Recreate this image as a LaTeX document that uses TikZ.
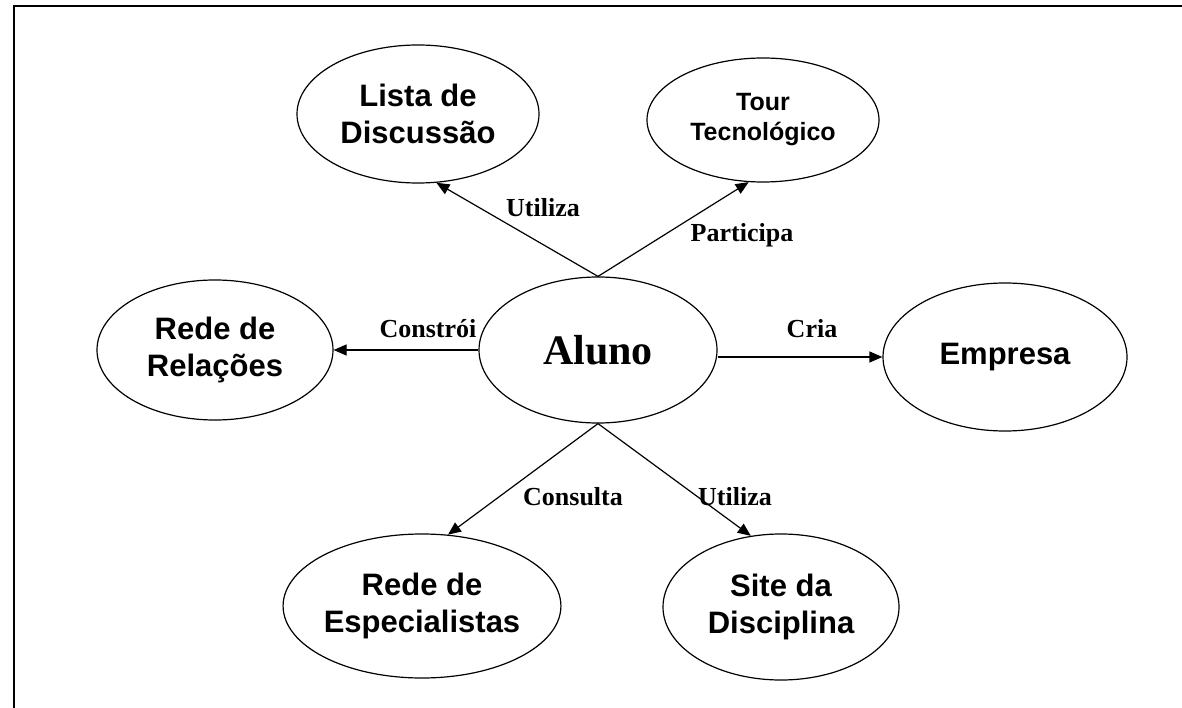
\documentclass[tikz,border=0pt]{standalone}
\usepackage{fontspec}
\setmainfont{Liberation Serif}
\setsansfont{Liberation Sans}
\usetikzlibrary{shapes.geometric,arrows.meta}

\begin{document}
\begin{tikzpicture}[
  x=1pt, y=-1pt,
  item/.style={ellipse,draw,line width=1.2pt,inner sep=0pt,align=center,
    font=\sffamily\bfseries\fontsize{31}{37}\selectfont},
  verb/.style={inner sep=0pt,font=\bfseries\fontsize{26}{31}\selectfont},
  link/.style={line width=1.2pt,-{Triangle[length=13pt,width=11pt]}}
]
  \useasboundingbox (0,0) rectangle (1182,708);
  \draw[line width=2pt] (14,708) -- (14,6) -- (1182,6);

  \node[item,minimum width=238pt,minimum height=146pt,
    font=\bfseries\fontsize{42}{50}\selectfont] (aluno) at (598,350) {Aluno};
  \node[item,minimum width=242pt,minimum height=138pt] (lista) at (418,114) {Lista de\\Discussão};
  \node[item,minimum width=232pt,minimum height=124pt,
    font=\sffamily\bfseries\fontsize{25}{30}\selectfont] (tour) at (763,120) {Tour\\Tecnológico};
  \node[item,minimum width=236pt,minimum height=140pt] (relacoes) at (215,350) {Rede de\\Relações};
  \node[item,minimum width=244pt,minimum height=148pt] (empresa) at (1005,357) {Empresa};
  \node[item,minimum width=240pt,minimum height=144pt] (especialistas) at (422,606) {Rede de\\Especialistas};
  \node[item,minimum width=236pt,minimum height=146pt] (site) at (781,607) {Site da\\Disciplina};

  \draw[link] (aluno.north) -- (lista.-75);
  \draw[link] (aluno.north) -- (tour.-103);
  \draw[link] (aluno.west) -- (relacoes.east);
  \draw[link] (aluno.east |- empresa.west) -- (empresa.west);
  \draw[link] (aluno.south) -- (especialistas.70);
  \draw[link] (aluno.south) -- (site.113);

  \node[verb] (utiliza1) at (543,208) {Utiliza};
  \node[verb] (participa) at (742,235) {Participa};
  \node[verb] (constroi) at (428,329) {Constrói};
  \node[verb] (cria) at (812,329) {Cria};
  \node[verb] (consulta) at (573,497) {Consulta};
  \node[verb] (utiliza2) at (735,497) {Utiliza};
\end{tikzpicture}
\end{document}
